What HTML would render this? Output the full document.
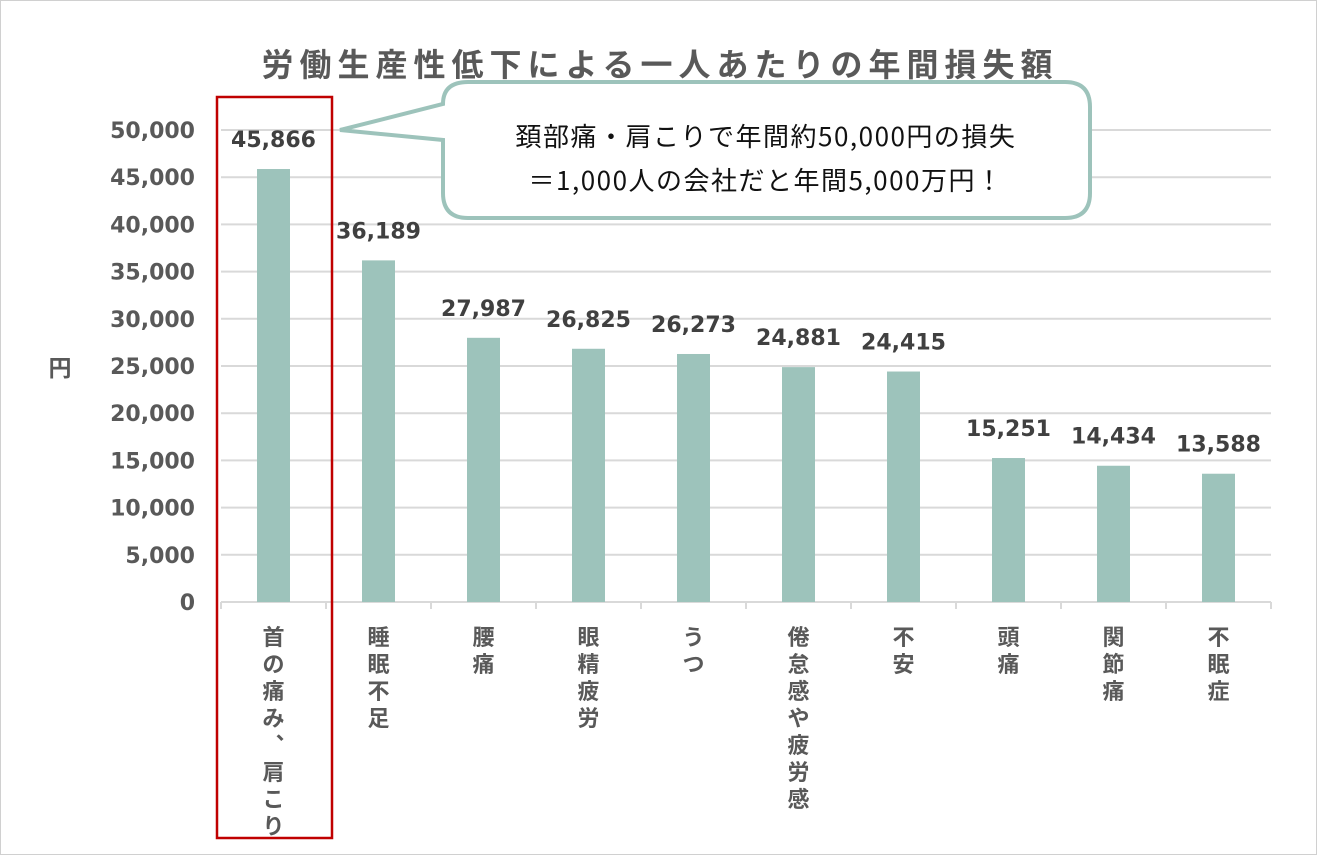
<!DOCTYPE html>
<html><head><meta charset="utf-8"><style>
body{margin:0;background:#fff}
svg{display:block;font-family:"Liberation Sans","Noto Sans CJK JP",sans-serif}
</style></head><body>
<svg id="c" width="1317" height="855" viewBox="0 0 1317 855">
<rect x="0.5" y="0.5" width="1316" height="854" fill="#fff" stroke="#d0d0d0"/>
<text x="660" y="76" text-anchor="middle" font-size="32" letter-spacing="6" font-weight="bold" fill="#595959" font-family="'Noto Sans CJK JP',sans-serif">労働生産性低下による一人あたりの年間損失額</text>
<text x="60" y="376" text-anchor="middle" font-size="23" font-weight="bold" fill="#595959" font-family="'Noto Sans CJK JP',sans-serif">円</text>
<g id="grid"></g><g id="bars"></g><g id="labels"></g><g id="xl"></g>
<path d="M468,82 H1065 Q1090,82 1090,107 V193 Q1090,218 1065,218 H468 Q443,218 443,193 V140 L340,130 L443,104 Q443,82 468,82 Z" fill="#fff" stroke="#9dc3bb" stroke-width="4"/>
<text x="766" y="146" text-anchor="middle" font-size="26" letter-spacing="1.5" fill="#111" font-family="'Noto Sans CJK JP',sans-serif">頚部痛・肩こりで年間約50,000円の損失</text>
<text x="766" y="190" text-anchor="middle" font-size="26" letter-spacing="1.5" fill="#111" font-family="'Noto Sans CJK JP',sans-serif">＝1,000人の会社だと年間5,000万円！</text>
<rect x="217" y="97" width="115" height="741" fill="none" stroke="#c00000" stroke-width="2.5"/>
</svg>
<script>
const categories=["首の痛み、肩こり","睡眠不足","腰痛","眼精疲労","うつ","倦怠感や疲労感","不安","頭痛","関節痛","不眠症"];
const values=[45866,36189,27987,26825,26273,24881,24415,15251,14434,13588];
const yTicks=[0,5000,10000,15000,20000,25000,30000,35000,40000,45000,50000];
const NS="http://www.w3.org/2000/svg";
const x0=221,x1=1271,y0=602,y1=130,yMax=50000;
const step=(x1-x0)/categories.length;
const Y=v=>y0-(v/yMax)*(y0-y1);
const X=i=>x0+step*(i+0.5);
const NUMF="'DejaVu Sans',sans-serif";
function mk(tag,attrs,parent){const e=document.createElementNS(NS,tag);for(const k in attrs)e.setAttribute(k,attrs[k]);document.getElementById(parent).appendChild(e);return e;}
yTicks.forEach(t=>{
  if(t>0){const l=mk('line',{x1:x0,x2:x1,y1:Y(t),y2:Y(t),stroke:'#d9d9d9','stroke-width':2},'grid');
  
  }
  const tx=mk('text',{x:195,y:Y(t)+8,'text-anchor':'end','font-size':22,'font-weight':'bold',fill:'#595959','font-family':NUMF},'grid');
  tx.textContent=t.toLocaleString('en-US');
  
  
});
const ax=mk('line',{x1:x0,x2:x1,y1:y0,y2:y0,stroke:'#d9d9d9','stroke-width':2},'grid');


for(let i=0;i<=categories.length;i++){const tk=mk('line',{x1:x0+step*i,x2:x0+step*i,y1:y0,y2:y0+7,stroke:'#d9d9d9','stroke-width':2},'grid');

}
values.forEach((v,i)=>{
  const b=mk('rect',{x:X(i)-16.5,y:Y(v),width:33,height:y0-Y(v),fill:'#9dc3bb'},'bars');
  
  
  const t=mk('text',{x:X(i),y:Y(v)-22,'text-anchor':'middle','font-size':22,'font-weight':'bold',fill:'#404040','font-family':NUMF},'labels');
  t.textContent=v.toLocaleString('en-US');
  
  
  [...categories[i]].forEach((ch,j)=>{
    const c=mk('text',{x:X(i),y:645+27*j,'text-anchor':'middle','font-size':22,'font-weight':'bold',fill:'#595959','font-family':"'Noto Sans CJK JP',sans-serif"},'xl');
    c.textContent=ch==='、'?'︑':ch;
    
    
  });
});
</script>
</body></html>
